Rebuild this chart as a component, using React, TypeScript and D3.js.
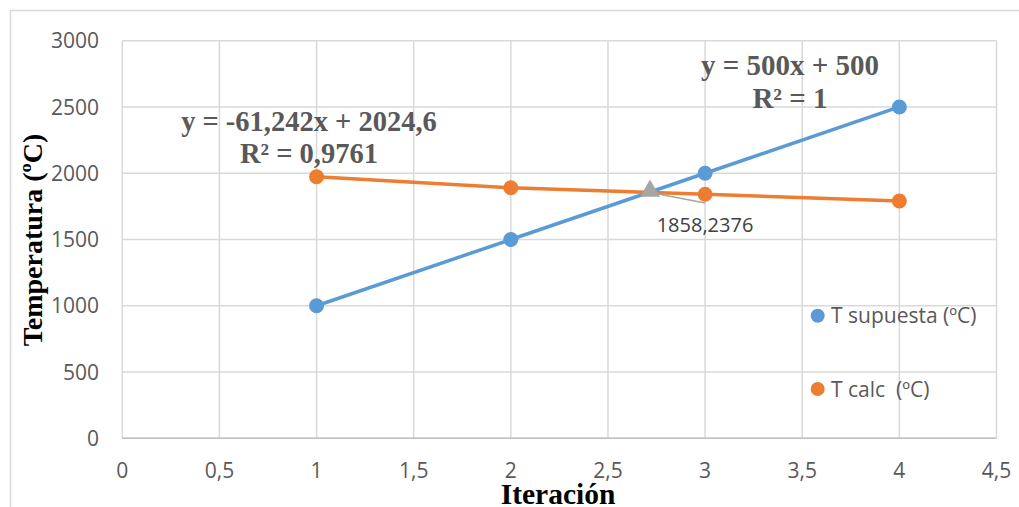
import React from "react";
import * as d3 from "d3";

const iterations = [1, 2, 3, 4];
const tSupuesta = [1000, 1500, 2000, 2500];
const tCalc = [1974, 1891, 1841, 1790];
const xTicks = [0, 0.5, 1, 1.5, 2, 2.5, 3, 3.5, 4, 4.5];
const yTicks = [0, 500, 1000, 1500, 2000, 2500, 3000];
const intersection = { x: 2.7165, y: 1858.2376, label: "1858,2376" };
const seriesNames = ["T supuesta (ºC)", "T calc  (ºC)"];
const eqSupuesta = ["y = 500x + 500", "R² = 1"];
const eqCalc = ["y = -61,242x + 2024,6", "R² = 0,9761"];

const W = 1019;
const H = 507;
const left = 122.3;
const right = 996.5;
const top = 40.7;
const bottom = 438.3;

const fmt = (v: number) => String(v).replace(".", ",");

export default function App() {
  const x = d3.scaleLinear().domain([0, 4.5]).range([left, right]);
  const y = d3.scaleLinear().domain([0, 3000]).range([bottom, top]);
  const line = d3
    .line<[number, number]>()
    .x((d) => x(d[0]))
    .y((d) => y(d[1]));
  const blue = "#5b9bd5";
  const orange = "#ed7d31";
  const grid = "#d9d9d9";
  const txt = "#595959";
  const sans = "'Open Sans', sans-serif";
  const serif = "'Liberation Serif', 'Times New Roman', serif";
  const supPts = iterations.map((it, i) => [it, tSupuesta[i]] as [number, number]);
  const calcPts = iterations.map((it, i) => [it, tCalc[i]] as [number, number]);
  const tri = d3.symbol().type(d3.symbolTriangle).size(170)();
  const ix = x(intersection.x);
  const iy = y(intersection.y);

  return (
    <svg
      width={W}
      height={H}
      style={{ position: "absolute", left: 0, top: 0, background: "#fff" }}
    >
      <rect x={10.5} y={10.5} width={W + 20} height={H + 20} fill="#fff" stroke={grid} strokeWidth={1.5} />
      {/* gridlines */}
      {yTicks.map((t) => (
        <line key={"gy" + t} x1={left} x2={right} y1={y(t)} y2={y(t)} stroke={grid} strokeWidth={1.5} />
      ))}
      {xTicks.map((t) => (
        <line key={"gx" + t} x1={x(t)} x2={x(t)} y1={top} y2={bottom} stroke={grid} strokeWidth={1.5} />
      ))}
      <line x1={left} x2={right} y1={bottom} y2={bottom} stroke="#bfbfbf" strokeWidth={1.5} />
      {/* tick labels */}
      {yTicks.map((t) => (
        <text key={"ty" + t} x={99} y={y(t)} dy="0.36em" textAnchor="end" fontFamily={sans} fontSize={21} fill={txt}>
          {fmt(t)}
        </text>
      ))}
      {xTicks.map((t) => (
        <text key={"tx" + t} x={x(t)} y={470} dy="0.36em" textAnchor="middle" fontFamily={sans} fontSize={21} fill={txt}>
          {fmt(t)}
        </text>
      ))}
      {/* series */}
      <path d={line(supPts) || ""} fill="none" stroke={blue} strokeWidth={3.5} />
      <path d={line(calcPts) || ""} fill="none" stroke={orange} strokeWidth={3.5} />
      {supPts.map((p, i) => (
        <circle key={"bs" + i} cx={x(p[0])} cy={y(p[1])} r={7.5} fill={blue} />
      ))}
      {calcPts.map((p, i) => (
        <circle key={"oc" + i} cx={x(p[0])} cy={y(p[1])} r={7.5} fill={orange} />
      ))}
      {/* intersection */}
      <line x1={ix + 3} y1={iy + 1} x2={705} y2={203} stroke="#a5a5a5" strokeWidth={1.5} />
      <path d={tri || ""} transform={`translate(${ix},${iy - 1})`} fill="#a5a5a5" />
      <text x={705} y={225} dy="0.36em" textAnchor="middle" fontFamily={sans} fontSize={20} fill="#404040">
        {intersection.label}
      </text>
      {/* equations */}
      <text x={790} y={75} textAnchor="middle" fontFamily={serif} fontWeight="bold" fontSize={29} fill={txt}>
        {eqSupuesta[0]}
      </text>
      <text x={790} y={108} textAnchor="middle" fontFamily={serif} fontWeight="bold" fontSize={29} fill={txt}>
        {eqSupuesta[1]}
      </text>
      <text x={309} y={131} textAnchor="middle" fontFamily={serif} fontWeight="bold" fontSize={28.5} fill={txt}>
        {eqCalc[0]}
      </text>
      <text x={309} y={163} textAnchor="middle" fontFamily={serif} fontWeight="bold" fontSize={28.5} fill={txt}>
        {eqCalc[1]}
      </text>
      {/* legend */}
      <circle cx={817.7} cy={315.7} r={7} fill={blue} />
      <text x={831} y={315.7} dy="0.36em" fontFamily={sans} fontSize={21} fill={txt} style={{ whiteSpace: "pre" }}>
        {seriesNames[0]}
      </text>
      <circle cx={817.7} cy={389} r={7} fill={orange} />
      <text x={831} y={389} dy="0.36em" fontFamily={sans} fontSize={21} fill={txt} style={{ whiteSpace: "pre" }}>
        {seriesNames[1]}
      </text>
      {/* axis titles */}
      <text x={558} y={504} textAnchor="middle" fontFamily={serif} fontWeight="bold" fontSize={29.5} fill="#000">
        Iteración
      </text>
      <text
        transform={`translate(42,240) rotate(-90)`}
        textAnchor="middle"
        fontFamily={serif}
        fontWeight="bold"
        fontSize={28}
        fill="#000"
      >
        Temperatura (ºC)
      </text>
    </svg>
  );
}
